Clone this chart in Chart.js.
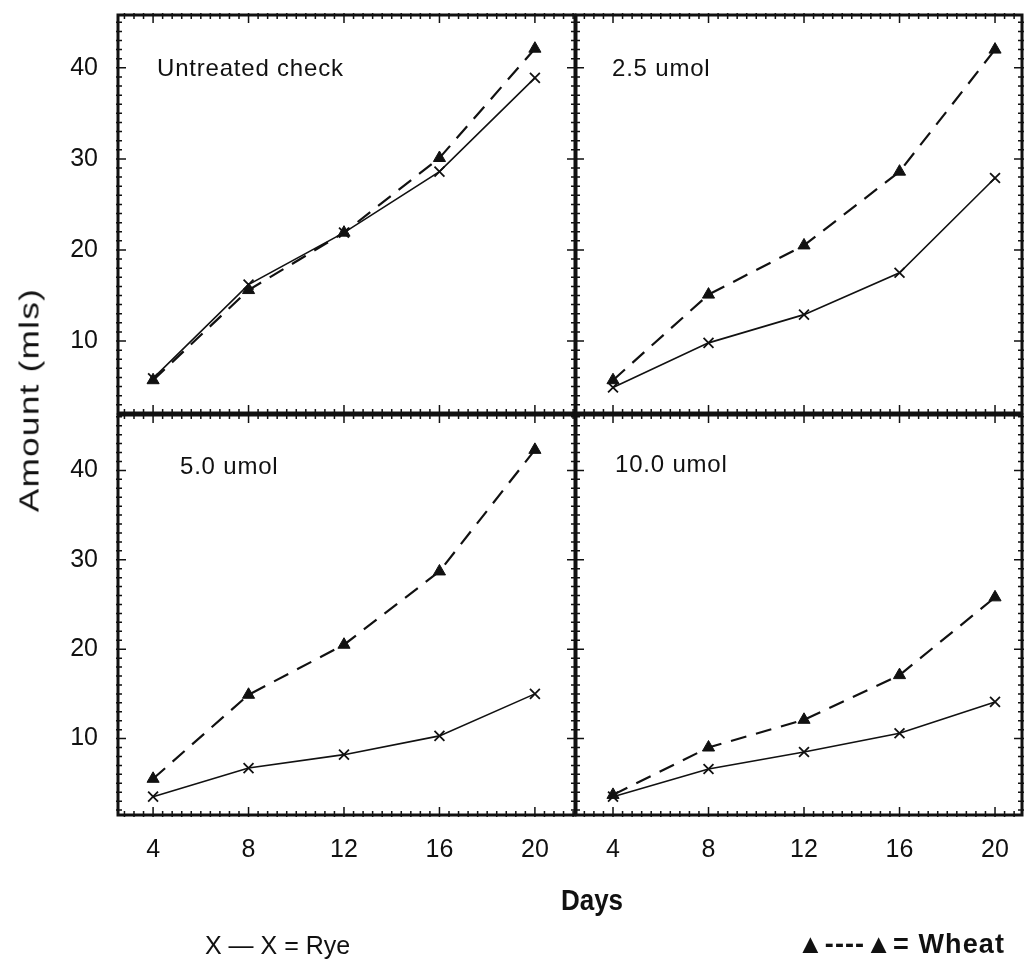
<!DOCTYPE html>
<html lang="en">
<head>
<meta charset="UTF-8">
<title>Rye and Wheat - Amount by Days</title>
<script src="https://cdn.jsdelivr.net/npm/chart.js"></script>
<style>
  body { margin: 0; background: #fff; }
  #wrap { position: relative; width: 1026px; height: 972px; font-family: "Liberation Sans", Arial, sans-serif; color: #111; }
  #wrap canvas { position: absolute; left: 0; top: 0; }
  .lbl { position: absolute; white-space: nowrap; line-height: 1; }
  .ttl { font-size: 24px; letter-spacing: 0.8px; }
</style>
</head>
<body>
<div id="wrap">
  <canvas id="c1" width="1026" height="972"></canvas>
  <canvas id="c2" width="1026" height="972"></canvas>
  <canvas id="c3" width="1026" height="972"></canvas>
  <canvas id="c4" width="1026" height="972"></canvas>

  <div class="lbl ttl" style="left:157px; top:56px;">Untreated check</div>
  <div class="lbl ttl" style="left:612px; top:56px;">2.5 umol</div>
  <div class="lbl ttl" style="left:180px; top:454px;">5.0 umol</div>
  <div class="lbl ttl" style="left:615px; top:452px;">10.0 umol</div>

  <div class="lbl" style="left:30px; top:400px; font-size:27px; letter-spacing:1px; transform:translate(-50%,-50%) rotate(-90deg) scaleX(1.3);">Amount (mls)</div>
  <div class="lbl" style="left:592px; top:900px; font-size:26px; font-weight:bold; transform:translate(-50%,-50%) scaleY(1.15);">Days</div>
  <div class="lbl" style="left:205px; top:933px; font-size:25px;">X &#8212; X = Rye</div>
  <div class="lbl" style="left:797px; top:931px; font-size:27px; font-weight:bold; letter-spacing:1.1px;">&#9650;----&#9650;= Wheat</div>
</div>
<script>
    const days = [4, 8, 12, 16, 20];
    const yTicks = [10, 20, 30, 40];

    // values
    const ryeUntreated   = [5.9, 16.2, 21.9, 28.6, 38.9];
    const wheatUntreated = [5.7, 15.6, 21.9, 30.1, 42.1];
    const rye25   = [4.9, 9.8, 12.9, 17.5, 27.9];
    const wheat25 = [5.7, 15.1, 20.5, 28.6, 42.0];
    const rye50   = [3.5, 6.7, 8.2, 10.3, 15.0];
    const wheat50 = [5.5, 14.9, 20.5, 28.7, 42.3];
    const rye100   = [3.5, 6.6, 8.5, 10.6, 14.1];
    const wheat100 = [3.7, 9.0, 12.1, 17.1, 25.8];

    const W = 1026, H = 972;
    const yAxisW = 60, xAxisH = 50;

    // box = plot frame [left, top, right, bottom]
    const panels = [
        { id: 'c1', rye: ryeUntreated, wheat: wheatUntreated, box: [118, 15, 575, 413], x: [2.53, 21.68], y: [2.1, 45.8], yLabels: true,  xLabels: false },
        { id: 'c2', rye: rye25,        wheat: wheat25,        box: [576, 15, 1022, 413], x: [2.45, 21.13], y: [2.1, 45.8], yLabels: false, xLabels: false },
        { id: 'c3', rye: rye50,        wheat: wheat50,        box: [118, 415, 575, 815], x: [2.53, 21.68], y: [1.45, 46.2], yLabels: true,  xLabels: true },
        { id: 'c4', rye: rye100,       wheat: wheat100,       box: [576, 415, 1022, 815], x: [2.45, 21.13], y: [1.45, 46.2], yLabels: false, xLabels: true }
    ];

    // thick frame with small ticks on all four sides
    const framePlugin = {
        id: 'frame',
        afterDatasetsDraw(chart) {
            const { ctx, chartArea: a, scales: { x, y } } = chart;
            ctx.save();
            ctx.strokeStyle = '#111';
            ctx.lineWidth = 3;
            ctx.strokeRect(a.left, a.top, a.right - a.left, a.bottom - a.top);
            ctx.lineWidth = 1.5;
            ctx.beginPath();
            for (let v = Math.ceil(y.min); v <= y.max; v++) {
                const py = y.getPixelForValue(v);
                const len = v % 10 === 0 ? 8 : 4;
                ctx.moveTo(a.left - 2, py); ctx.lineTo(a.left + len, py);
                ctx.moveTo(a.right + 2, py); ctx.lineTo(a.right - len, py);
            }
            for (let k = Math.ceil((x.min - 4) / 0.4); 4 + k * 0.4 <= x.max; k++) {
                const px = x.getPixelForValue(4 + k * 0.4);
                const len = k % 10 === 0 ? 8 : 4;
                ctx.moveTo(px, a.top - 2); ctx.lineTo(px, a.top + len);
                ctx.moveTo(px, a.bottom + 2); ctx.lineTo(px, a.bottom - len);
            }
            ctx.stroke();
            ctx.restore();
        }
    };

    function makeChart(p) {
        const ctx = document.getElementById(p.id).getContext('2d');
        return new Chart(ctx, {
            type: 'line',
            data: {
                datasets: [
                    {
                        label: 'Rye',
                        data: days.map((d, i) => ({ x: d, y: p.rye[i] })),
                        borderColor: '#111',
                        borderWidth: 1.6,
                        tension: 0,
                        pointStyle: 'crossRot',
                        pointRadius: 7,
                        pointBorderWidth: 1.8,
                        pointBorderColor: '#111',
                        pointBackgroundColor: '#111'
                    },
                    {
                        label: 'Wheat',
                        data: days.map((d, i) => ({ x: d, y: p.wheat[i] })),
                        borderColor: '#111',
                        borderWidth: 2.2,
                        borderDash: [16, 10],
                        tension: 0,
                        pointStyle: 'triangle',
                        pointRadius: 7,
                        pointBorderWidth: 1,
                        pointBorderColor: '#111',
                        pointBackgroundColor: '#111'
                    }
                ]
            },
            options: {
                responsive: false,
                animation: false,
                devicePixelRatio: 1,
                layout: {
                    autoPadding: false,
                    padding: {
                        left: p.box[0] - (p.yLabels ? yAxisW : 0),
                        top: p.box[1],
                        right: W - p.box[2],
                        bottom: H - p.box[3] - (p.xLabels ? xAxisH : 0)
                    }
                },
                plugins: {
                    legend: { display: false },
                    tooltip: { enabled: false }
                },
                scales: {
                    x: {
                        type: 'linear',
                        min: p.x[0],
                        max: p.x[1],
                        display: p.xLabels,
                        grid: { display: false },
                        border: { display: false },
                        afterFit: s => {
                            s.height = p.xLabels ? xAxisH : 0;
                            s.paddingLeft = s.paddingRight = s.paddingTop = s.paddingBottom = 0;
                        },
                        afterBuildTicks: s => { s.ticks = days.map(v => ({ value: v })); },
                        ticks: {
                            color: '#111',
                            font: { family: 'Liberation Sans', size: 25 },
                            padding: 12,
                            maxRotation: 0,
                            autoSkip: false
                        }
                    },
                    y: {
                        type: 'linear',
                        min: p.y[0],
                        max: p.y[1],
                        display: p.yLabels,
                        grid: { display: false },
                        border: { display: false },
                        afterFit: s => {
                            s.width = p.yLabels ? yAxisW : 0;
                            s.paddingLeft = s.paddingRight = s.paddingTop = s.paddingBottom = 0;
                        },
                        afterBuildTicks: s => { s.ticks = yTicks.map(v => ({ value: v })); },
                        ticks: {
                            color: '#111',
                            font: { family: 'Liberation Sans', size: 25 },
                            padding: 12,
                            autoSkip: false
                        }
                    }
                }
            },
            plugins: [framePlugin]
        });
    }

    panels.forEach(makeChart);
</script>
</body>
</html>
